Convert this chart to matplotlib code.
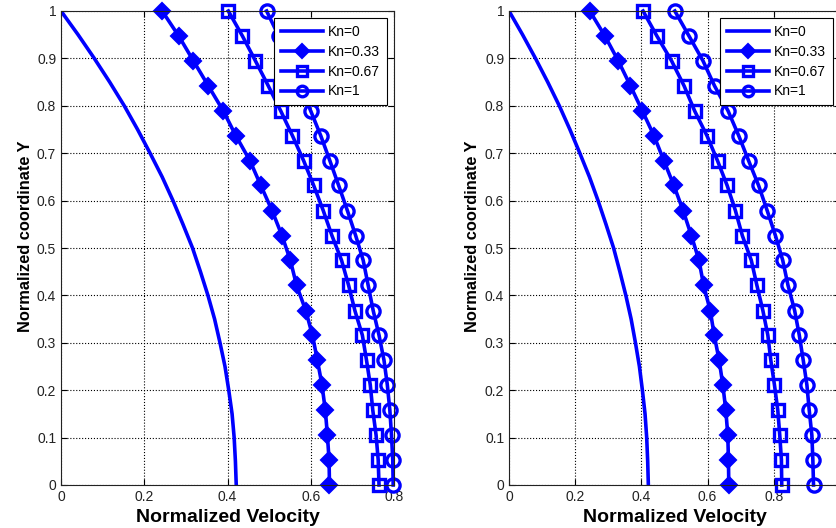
import matplotlib
matplotlib.use("Agg")
import matplotlib.pyplot as plt

plt.rcParams['font.family'] = ['Liberation Sans', 'DejaVu Sans']

# Kn=0 (solid curve, same in both panels)
y0 = [1.00, 0.95, 0.90, 0.85, 0.80, 0.75, 0.70, 0.65, 0.60, 0.55, 0.50,
      0.45, 0.40, 0.35, 0.30, 0.25, 0.20, 0.15, 0.10, 0.05, 0.00]
u0 = [0.000, 0.041, 0.080, 0.117, 0.152, 0.184, 0.214, 0.243, 0.269, 0.293, 0.316,
      0.335, 0.353, 0.369, 0.382, 0.394, 0.403, 0.411, 0.416, 0.419, 0.421]

# marker rows
ym = [1.000, 0.947, 0.895, 0.842, 0.789, 0.737, 0.684, 0.632, 0.579, 0.526,
      0.474, 0.421, 0.368, 0.316, 0.263, 0.211, 0.158, 0.105, 0.053, 0.000]

# left panel
L_kn033 = [0.243, 0.283, 0.318, 0.354, 0.390, 0.420, 0.454, 0.480, 0.507, 0.531,
           0.551, 0.566, 0.588, 0.604, 0.616, 0.627, 0.635, 0.640, 0.644, 0.645]
L_kn067 = [0.402, 0.436, 0.467, 0.498, 0.528, 0.556, 0.583, 0.607, 0.630, 0.651,
           0.674, 0.691, 0.706, 0.724, 0.734, 0.743, 0.749, 0.757, 0.762, 0.764]
L_kn1 = [0.494, 0.523, 0.550, 0.575, 0.600, 0.624, 0.646, 0.667, 0.688, 0.708,
         0.726, 0.738, 0.750, 0.764, 0.776, 0.784, 0.790, 0.794, 0.797, 0.798]

# right panel
R_kn033 = [0.244, 0.290, 0.330, 0.367, 0.403, 0.438, 0.468, 0.498, 0.526, 0.551,
           0.574, 0.588, 0.608, 0.620, 0.635, 0.646, 0.655, 0.661, 0.663, 0.664]
R_kn067 = [0.405, 0.447, 0.491, 0.529, 0.561, 0.598, 0.630, 0.659, 0.684, 0.705,
           0.732, 0.749, 0.767, 0.782, 0.791, 0.802, 0.812, 0.818, 0.823, 0.824]
R_kn1 = [0.501, 0.544, 0.586, 0.621, 0.662, 0.694, 0.724, 0.754, 0.780, 0.805,
         0.827, 0.843, 0.863, 0.877, 0.889, 0.900, 0.907, 0.915, 0.918, 0.920]

labels = ['Kn=0', 'Kn=0.33', 'Kn=0.67', 'Kn=1']
yticks = [0, 0.1, 0.2, 0.3, 0.4, 0.5, 0.6, 0.7, 0.8, 0.9, 1]
ytick_labels = ['0', '0.1', '0.2', '0.3', '0.4', '0.5', '0.6', '0.7', '0.8', '0.9', '1']
L_xticks = [0, 0.2, 0.4, 0.6, 0.8]
L_xtick_labels = ['0', '0.2', '0.4', '0.6', '0.8']
R_xticks = [0, 0.2, 0.4, 0.6, 0.8, 1.0]
R_xtick_labels = ['0', '0.2', '0.4', '0.6', '0.8', '']  # "1" falls outside the picture

W, H = 836, 528
fig = plt.figure(figsize=(W / 100, H / 100), dpi=100)
axL = fig.add_axes([61 / W, 43 / H, 333 / W, 474 / H])
axR = fig.add_axes([509 / W, 43 / H, 331 / W, 474 / H])

blue = '#0000ff'
lw = 2.6
ms = 9

def draw(ax, k033, k067, k1, xmax, xt, xtl, ylab_x):
    ax.plot(u0, y0, color=blue, lw=lw, label=labels[0])
    ax.plot(k033, ym, color=blue, lw=lw, marker='D', ms=8.5, mfc=blue, mec=blue,
            mew=1.5, label=labels[1], clip_on=False)
    ax.plot(k067, ym, color=blue, lw=lw, marker='s', ms=ms, mfc='none', mec=blue,
            mew=2.4, label=labels[2], clip_on=False)
    ax.plot(k1, ym, color=blue, lw=lw, marker='o', ms=ms + 0.5, mfc='none', mec=blue,
            mew=2.4, label=labels[3], clip_on=False)
    ax.set_xlim(0, xmax)
    ax.set_ylim(0, 1)
    ax.set_xticks(xt)
    ax.set_xticklabels(xtl)
    ax.set_yticks(yticks)
    ax.set_yticklabels(ytick_labels)
    ax.tick_params(direction='in', length=4, width=0.8, labelsize=10,
                   top=True, right=True, colors='black', pad=3.5)
    for lab in ax.get_xticklabels() + ax.get_yticklabels():
        lab.set_color('#222222')
    ax.grid(True, linestyle=':', color='black', lw=0.8)
    for s in ax.spines.values():
        s.set_linewidth(0.8)
        s.set_color('#222222')
    ax.set_xlabel('Normalized Velocity', fontsize=14, fontweight='bold', labelpad=3.5)
    ax.set_ylabel('Normalized coordinate Y', fontsize=11.75, fontweight='bold')
    ax.yaxis.set_label_coords(ylab_x, 0.525)
    leg = ax.legend(loc='upper right', fontsize=10, frameon=True, fancybox=False,
                    framealpha=1, edgecolor='black', handlelength=3.0,
                    borderpad=0.5, labelspacing=0.42, handletextpad=0.4,
                    borderaxespad=0.5, markerscale=0.8)
    leg.get_frame().set_linewidth(0.8)
    leg.set_zorder(10)

draw(axL, L_kn033, L_kn067, L_kn1, 0.8, L_xticks, L_xtick_labels, -0.084)
draw(axR, R_kn033, R_kn067, R_kn1, 1.0, R_xticks, R_xtick_labels, -0.088)

fig.savefig('out.png', dpi=100)
